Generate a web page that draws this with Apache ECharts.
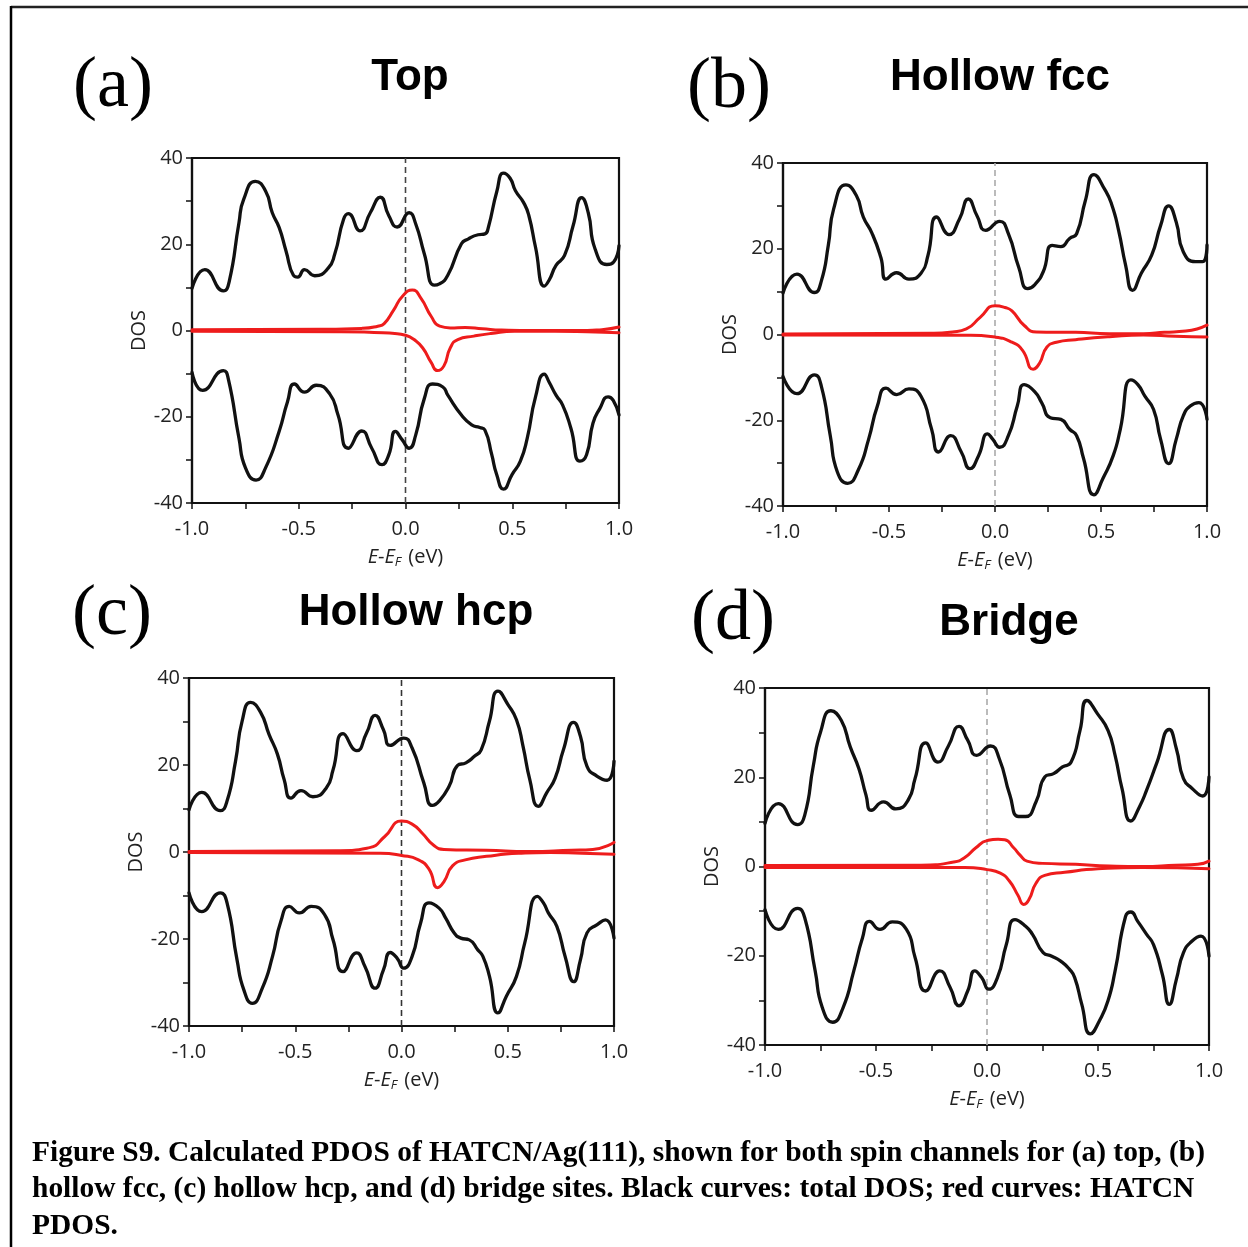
<!DOCTYPE html>
<html><head><meta charset="utf-8">
<script src="https://cdn.jsdelivr.net/npm/echarts@6/dist/echarts.min.js"></script>
<style>html,body{margin:0;padding:0;background:#fff}#c{width:1248px;height:1247px}</style>
</head><body><div id="c"></div><script>
// ---------- DATA (energy in eV, DOS) ----------
const xTicks = [-1.0, -0.5, 0.0, 0.5, 1.0];
const yTicks = [-40, -20, 0, 20, 40];
const panelLetters = ['(a)', '(b)', '(c)', '(d)'];
const panelTitles = ['Top', 'Hollow fcc', 'Hollow hcp', 'Bridge'];

// (a) Top
const topTotalUp = [[-1.0,9.8],[-0.94,14.1],[-0.853,9.2],[-0.826,11.3],[-0.78,25],[-0.758,30.4],[-0.703,34.6],[-0.655,32.3],[-0.624,27.3],[-0.592,23.9],[-0.56,18.5],[-0.525,12.8],[-0.505,12.4],[-0.473,14.1],[-0.425,12.7],[-0.363,14.4],[-0.331,17.8],[-0.29,25.8],[-0.268,27.1],[-0.213,23.1],[-0.165,27.3],[-0.118,30.9],[-0.078,26.6],[-0.039,24.0],[0.017,27.3],[0.048,24.7],[0.088,17.8],[0.135,10.5],[0.159,10.8],[0.198,12.8],[0.262,20.1],[0.293,21.2],[0.34,22.2],[0.372,22.4],[0.388,23.9],[0.428,32.3],[0.459,36.5],[0.49,35.3],[0.515,32.4],[0.554,29.6],[0.578,26.6],[0.609,19.3],[0.65,10.3],[0.673,11.7],[0.705,15.1],[0.745,17.4],[0.785,24.3],[0.825,30.8],[0.856,27.3],[0.888,18.9],[0.943,15.3],[0.975,15.9],[1.0,19.7]];
const topTotalDown = [[-1.0,-9.7],[-0.95,-13.9],[-0.853,-9.3],[-0.83,-11.2],[-0.78,-25],[-0.75,-31.8],[-0.7,-34.7],[-0.655,-31.8],[-0.592,-23.4],[-0.553,-16.6],[-0.52,-12.4],[-0.473,-14.3],[-0.418,-12.7],[-0.355,-14.7],[-0.316,-19.6],[-0.268,-27.3],[-0.205,-23.3],[-0.158,-27.3],[-0.11,-31.1],[-0.078,-28.8],[-0.047,-23.4],[-0.016,-25.3],[0.017,-27.3],[0.048,-24.2],[0.088,-15.8],[0.127,-12.4],[0.175,-13.1],[0.198,-15.0],[0.262,-19.6],[0.31,-21.9],[0.348,-22.5],[0.372,-23.1],[0.404,-28.8],[0.427,-33.4],[0.459,-36.8],[0.499,-33.4],[0.538,-30.3],[0.57,-25],[0.609,-15.4],[0.65,-10.1],[0.673,-12.0],[0.705,-15.0],[0.736,-17.3],[0.775,-22.7],[0.817,-30.3],[0.848,-28.8],[0.878,-21.5],[0.91,-18.1],[0.949,-15.4],[0.973,-16.2],[1.0,-19.6]];
const topPdosUp = [[-1.0,0.2],[-0.4,0.3],[-0.2,0.5],[-0.13,1.0],[-0.1,1.6],[-0.055,4.8],[-0.015,7.9],[0.032,9.4],[0.072,7.5],[0.12,3.3],[0.16,1.0],[0.21,0.6],[0.28,0.7],[0.36,0.4],[0.45,0.1],[0.6,0.0],[0.8,0.0],[0.92,0.2],[1.0,0.8]];
const topPdosDown = [[-1.0,-0.2],[-0.3,-0.3],[-0.05,-0.7],[0.0,-1.1],[0.04,-2.1],[0.08,-4.0],[0.12,-7.4],[0.15,-9.3],[0.18,-8.2],[0.21,-4.0],[0.245,-2.1],[0.32,-1.3],[0.4,-0.7],[0.51,-0.2],[0.7,-0.2],[0.85,-0.3],[1.0,-0.5]];

// (b) Hollow fcc
const fccTotalUp = [[-1.0,9.7],[-0.934,14.1],[-0.852,9.8],[-0.819,12.5],[-0.786,20.9],[-0.761,29.3],[-0.703,34.9],[-0.654,32.4],[-0.621,27.4],[-0.58,23.6],[-0.538,17.9],[-0.514,12.9],[-0.464,14.4],[-0.406,12.9],[-0.349,14.3],[-0.316,18.5],[-0.275,27.4],[-0.217,23.3],[-0.167,27.0],[-0.126,31.6],[-0.085,27.7],[-0.044,24.3],[0.022,26.4],[0.063,23.5],[0.113,15.5],[0.154,10.7],[0.187,11.6],[0.228,14.7],[0.27,20.8],[0.311,20.5],[0.352,22.4],[0.385,23.5],[0.426,31.2],[0.467,37.3],[0.517,33.9],[0.55,30.4],[0.583,24.3],[0.616,16.2],[0.649,10.3],[0.69,14.3],[0.739,18.5],[0.781,25.4],[0.819,30.0],[0.855,26.2],[0.888,19.3],[0.946,17.0],[0.979,17.0],[1.0,20.9]];
const fccTotalDown = [[-1.0,-9.8],[-0.934,-13.8],[-0.852,-9.4],[-0.819,-12.1],[-0.777,-23.6],[-0.744,-32.0],[-0.695,-34.7],[-0.645,-31.6],[-0.596,-24.4],[-0.555,-16.7],[-0.514,-12.5],[-0.464,-14.0],[-0.406,-12.7],[-0.349,-14.4],[-0.299,-22.1],[-0.266,-27.4],[-0.209,-23.6],[-0.159,-27.4],[-0.118,-31.3],[-0.077,-28.2],[-0.035,-23.2],[-0.011,-24.4],[0.022,-26.3],[0.063,-23.6],[0.105,-16.7],[0.138,-11.7],[0.187,-13.3],[0.22,-15.9],[0.261,-19.4],[0.311,-19.8],[0.352,-22.1],[0.385,-23.6],[0.418,-29.0],[0.467,-37.4],[0.509,-33.6],[0.558,-28.2],[0.591,-22.1],[0.641,-10.6],[0.674,-11.7],[0.707,-14.4],[0.748,-17.5],[0.781,-24.4],[0.819,-30.1],[0.855,-24.4],[0.888,-19.0],[0.921,-16.7],[0.962,-15.9],[1.0,-19.8]];
const fccPdosUp = [[-1.0,0.1],[-0.3,0.3],[-0.2,0.6],[-0.135,1.3],[-0.07,4.0],[0.0,6.7],[0.047,6.3],[0.08,5.5],[0.138,2.1],[0.195,0.6],[0.38,0.5],[0.54,0.2],[0.7,0.2],[0.8,0.5],[0.9,0.8],[1.0,2.2]];
const fccPdosDown = [[-1.0,-0.1],[-0.12,-0.2],[0.0,-0.6],[0.08,-1.8],[0.13,-3.7],[0.18,-8.1],[0.21,-6.7],[0.245,-2.9],[0.29,-1.8],[0.38,-1.2],[0.54,-0.5],[0.7,-0.1],[0.85,-0.4],[1.0,-0.6]];

// (c) Hollow hcp
const hcpTotalUp = [[-1.0,9.7],[-0.94,13.7],[-0.853,9.5],[-0.821,11.7],[-0.781,20.9],[-0.75,30.1],[-0.71,34.4],[-0.663,32.1],[-0.623,27.0],[-0.584,22.5],[-0.552,16.6],[-0.52,12.4],[-0.473,14.1],[-0.417,12.7],[-0.354,14.7],[-0.322,18.9],[-0.275,27.2],[-0.211,23.3],[-0.164,27.4],[-0.124,31.4],[-0.085,28.1],[-0.053,24.5],[0.01,26.2],[0.05,23.9],[0.105,15.9],[0.145,10.7],[0.177,11.7],[0.224,15.1],[0.264,19.9],[0.303,20.5],[0.343,22.0],[0.375,23.5],[0.414,30.1],[0.454,37.0],[0.501,33.9],[0.541,30.4],[0.572,24.3],[0.604,16.6],[0.644,10.5],[0.683,13.6],[0.723,17.0],[0.762,23.5],[0.81,29.8],[0.842,26.6],[0.873,19.7],[0.921,17.4],[0.968,16.5],[1.0,20.9]];
const hcpTotalDown = [[-1.0,-9.4],[-0.94,-13.7],[-0.853,-9.4],[-0.821,-11.7],[-0.774,-24.8],[-0.742,-31.7],[-0.702,-34.8],[-0.655,-31.3],[-0.607,-24.0],[-0.568,-16.0],[-0.528,-12.5],[-0.481,-14.0],[-0.425,-12.5],[-0.362,-14.4],[-0.322,-20.2],[-0.275,-27.5],[-0.211,-23.2],[-0.172,-26.3],[-0.124,-31.3],[-0.085,-27.1],[-0.053,-23.1],[-0.021,-24.4],[0.01,-26.7],[0.05,-24.0],[0.09,-16.3],[0.129,-11.7],[0.177,-12.9],[0.208,-15.2],[0.248,-18.6],[0.279,-19.8],[0.319,-20.2],[0.359,-22.5],[0.383,-24.0],[0.414,-28.6],[0.454,-37.0],[0.493,-33.2],[0.541,-28.6],[0.58,-20.9],[0.64,-10.2],[0.668,-11.7],[0.691,-14.0],[0.731,-17.1],[0.77,-24.0],[0.81,-29.8],[0.842,-24.8],[0.873,-18.6],[0.921,-16.7],[0.96,-15.6],[1.0,-19.8]];
const hcpPdosUp = [[-1.0,0.1],[-0.3,0.3],[-0.15,1.0],[-0.08,3.5],[0.0,7.1],[0.05,6.4],[0.1,4.2],[0.15,1.6],[0.2,0.6],[0.4,0.4],[0.6,0.1],[0.8,0.4],[0.9,0.6],[1.0,2.2]];
const hcpPdosDown = [[-1.0,-0.1],[-0.1,-0.3],[0.0,-0.8],[0.08,-1.8],[0.13,-4.0],[0.17,-8.2],[0.2,-6.8],[0.24,-3.2],[0.3,-1.8],[0.4,-1.0],[0.55,-0.3],[0.7,-0.1],[0.85,-0.3],[1.0,-0.5]];

// (d) Bridge
const bridgeTotalUp = [[-1.0,9.7],[-0.94,14.1],[-0.853,9.4],[-0.821,11.5],[-0.782,22.7],[-0.75,30.1],[-0.703,34.9],[-0.656,32.7],[-0.616,26.8],[-0.577,21.9],[-0.545,16.0],[-0.521,12.6],[-0.466,14.5],[-0.411,12.9],[-0.355,14.9],[-0.324,19.7],[-0.276,27.7],[-0.221,23.4],[-0.174,27.0],[-0.126,31.4],[-0.087,28.3],[-0.047,24.9],[0.016,27.0],[0.055,24.2],[0.103,16.0],[0.142,11.2],[0.174,11.2],[0.221,14.5],[0.261,20.1],[0.3,20.8],[0.34,22.3],[0.379,23.4],[0.419,30.5],[0.45,37.2],[0.498,34.2],[0.545,30.5],[0.577,24.9],[0.608,17.5],[0.648,10.2],[0.687,13.4],[0.719,17.1],[0.766,23.4],[0.821,30.7],[0.853,26.4],[0.885,19.7],[0.924,17.5],[0.972,15.8],[1.0,20.1]];
const bridgeTotalDown = [[-1.0,-9.7],[-0.94,-14.1],[-0.853,-9.4],[-0.821,-11.5],[-0.774,-23.4],[-0.742,-31.6],[-0.695,-34.9],[-0.648,-31.6],[-0.6,-23.4],[-0.561,-16.0],[-0.529,-12.3],[-0.482,-14.1],[-0.427,-12.4],[-0.363,-14.1],[-0.324,-20.4],[-0.276,-27.9],[-0.213,-23.4],[-0.166,-27.1],[-0.126,-31.2],[-0.087,-27.9],[-0.055,-23.4],[-0.024,-24.9],[0.008,-27.5],[0.047,-24.9],[0.087,-17.5],[0.126,-11.9],[0.174,-13.4],[0.205,-15.2],[0.253,-19.3],[0.292,-20.1],[0.332,-21.2],[0.371,-23.0],[0.395,-24.9],[0.427,-30.9],[0.466,-37.5],[0.506,-34.6],[0.545,-30.1],[0.577,-23.4],[0.624,-11.2],[0.648,-10.2],[0.679,-12.3],[0.719,-15.2],[0.75,-17.5],[0.79,-24.2],[0.821,-30.9],[0.853,-25.3],[0.885,-19.3],[0.924,-16.7],[0.964,-15.6],[1.0,-20.1]];
const bridgePdosUp = [[-1.0,0.2],[-0.3,0.3],[-0.15,1.0],[-0.1,2.0],[-0.05,4.2],[0.0,5.8],[0.05,6.1],[0.08,6.0],[0.12,4.2],[0.15,2.5],[0.18,1.2],[0.25,0.7],[0.4,0.5],[0.55,0.1],[0.7,0.0],[0.85,0.3],[0.95,0.5],[1.0,1.2]];
const bridgePdosDown = [[-1.0,-0.2],[-0.1,-0.2],[0.0,-0.7],[0.06,-1.5],[0.1,-3.2],[0.14,-6.5],[0.165,-8.5],[0.19,-7.3],[0.22,-3.8],[0.26,-2.0],[0.35,-1.3],[0.5,-0.5],[0.7,-0.2],[1.0,-0.5]];

const fermiLine = [[0, -40], [0, 40]];

// ---------- LAYOUT ----------
const panels = [
  {grid:{left:192, top:158, width:427, height:345}, up:topTotalUp, dn:topTotalDown, pu:topPdosUp, pd:topPdosDown, dash:'#444',
   letter:[113,87], title:[410,78]},
  {grid:{left:783, top:163, width:424, height:343}, up:fccTotalUp, dn:fccTotalDown, pu:fccPdosUp, pd:fccPdosDown, dash:'#aaa',
   letter:[729,88], title:[1000,78]},
  {grid:{left:189, top:678, width:425, height:348}, up:hcpTotalUp, dn:hcpTotalDown, pu:hcpPdosUp, pd:hcpPdosDown, dash:'#333',
   letter:[112,615], title:[416,613]},
  {grid:{left:765, top:688, width:444, height:357}, up:bridgeTotalUp, dn:bridgeTotalDown, pu:bridgePdosUp, pd:bridgePdosDown, dash:'#aaa',
   letter:[733,620], title:[1009,623]}
];

const labelFont = {color:'#222', fontFamily:'Open Sans', fontSize:20};
const grids = [], xAxes = [], yAxes = [], series = [], graphics = [];
panels.forEach((p, i) => {
  grids.push(Object.assign({show:true, borderColor:'#111', borderWidth:2.2, backgroundColor:'transparent'}, p.grid));
  xAxes.push({type:'value', gridIndex:i, min:xTicks[0], max:xTicks[xTicks.length-1], interval:0.5,
    axisLine:{show:true, onZero:false, lineStyle:{color:'#111', width:2.2}},
    axisTick:{show:true, inside:false, length:6, lineStyle:{color:'#111', width:1.5}},
    minorTick:{show:true, splitNumber:2, length:6, lineStyle:{color:'#111', width:1.5}},
    splitLine:{show:false},
    axisLabel:Object.assign({margin:16, formatter:v => v.toFixed(1)}, labelFont),
    name:'{it|E}-{it|E}{sub|F} (eV)', nameLocation:'middle', nameGap:43,
    nameTextStyle:{color:'#222', fontFamily:'Open Sans', fontSize:20,
      rich:{it:{fontStyle:'italic', fontFamily:'Open Sans', fontSize:20, color:'#222'},
            sub:{fontStyle:'italic', fontFamily:'Open Sans', fontSize:13, color:'#222', padding:[10,2,0,0]}}}
  });
  yAxes.push({type:'value', gridIndex:i, min:yTicks[0], max:yTicks[yTicks.length-1], interval:20,
    axisLine:{show:true, onZero:false, lineStyle:{color:'#111', width:2.2}},
    axisTick:{show:true, inside:false, length:6, lineStyle:{color:'#111', width:1.5}},
    minorTick:{show:true, splitNumber:2, length:6, lineStyle:{color:'#111', width:1.5}},
    splitLine:{show:false},
    axisLabel:Object.assign({margin:9}, labelFont),
    name:'DOS', nameLocation:'middle', nameGap:39, nameRotate:90,
    nameTextStyle:{color:'#222', fontFamily:'Open Sans', fontSize:20}
  });
  series.push({type:'line', xAxisIndex:i, yAxisIndex:i, data:fermiLine, symbol:'none', silent:true,
    lineStyle:{color:p.dash, width:1.6, type:[6,4]}, z:1});
  [[p.pu,'#ee1c1c',3],[p.pd,'#ee1c1c',3],[p.up,'#111',3.3],[p.dn,'#111',3.3]].forEach(([d,c,w]) => {
    series.push({type:'line', xAxisIndex:i, yAxisIndex:i, data:d, symbol:'none', smooth:0.55, silent:true,
      lineStyle:{color:c, width:w, join:'round', cap:'round'}, z:3});
  });
  graphics.push({type:'text', x:p.letter[0], y:p.letter[1], style:{text:panelLetters[i], font:'72px "Liberation Serif"', fill:'#000', textAlign:'center', textVerticalAlign:'middle'}});
  graphics.push({type:'text', x:p.title[0], y:p.title[1], style:{text:panelTitles[i], font:'bold 44px "Liberation Sans"', fill:'#000', textAlign:'center', textVerticalAlign:'middle'}});
});

// page frame
graphics.push({type:'line', shape:{x1:11, y1:7, x2:1248, y2:7}, style:{stroke:'#222', lineWidth:2.5}});
graphics.push({type:'line', shape:{x1:11, y1:6, x2:11, y2:1247}, style:{stroke:'#000', lineWidth:2.5}});

// caption
const captionLines = [
  'Figure S9. Calculated PDOS of HATCN/Ag(111), shown for both spin channels for (a) top, (b)',
  'hollow fcc, (c) hollow hcp, and (d) bridge sites. Black curves: total DOS; red curves: HATCN',
  'PDOS.'
];
const capFont = 'bold 30px "Liberation Serif"';
const cv = document.createElement('canvas').getContext('2d');
cv.font = capFont;
const capScale = 1173 / cv.measureText(captionLines[0]).width;
captionLines.forEach((t, k) => {
  graphics.push({type:'text', x:32, y:1153 + k*36.5, scaleX:capScale,
    style:{text:t, font:capFont, fill:'#000', textAlign:'left', textVerticalAlign:'middle'}});
});

const chart = echarts.init(document.getElementById('c'), null, {renderer:'canvas'});
chart.setOption({animation:false, backgroundColor:'#fff', grid:grids, xAxis:xAxes, yAxis:yAxes, series:series, graphic:graphics});
</script></body></html>
